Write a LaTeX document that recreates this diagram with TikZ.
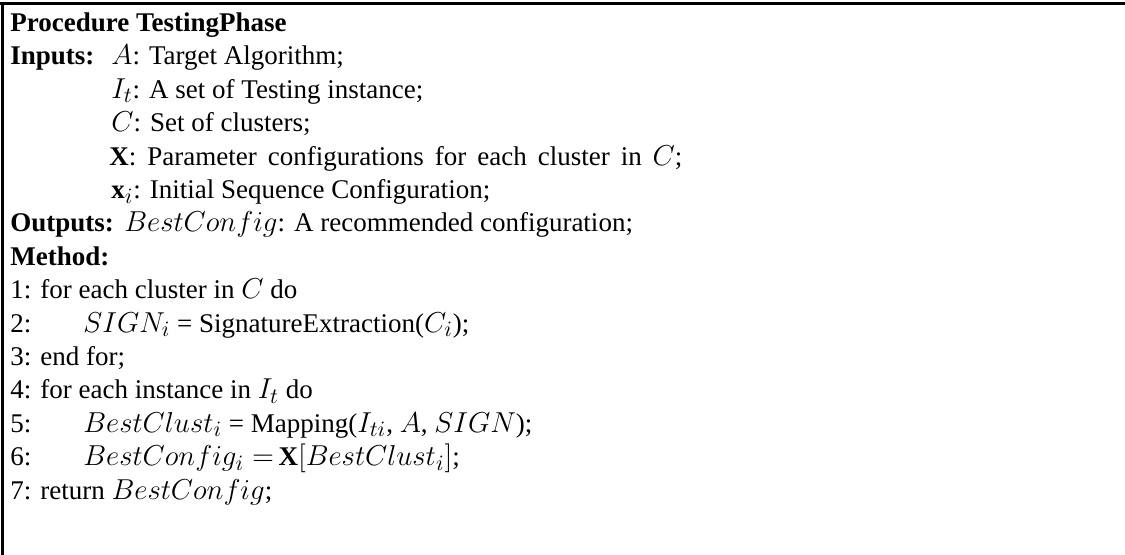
\documentclass[tikz,border=0pt]{standalone}
\usepackage{fontspec}
\setmainfont{Liberation Serif}
\DeclareMathSizes{13.5}{15}{11}{8.5}
\begin{document}
\begin{tikzpicture}[x=0.5pt,y=-0.5pt,
  txt/.style={anchor=base west, inner sep=0pt, font=\fontsize{13.5}{16}\selectfont},
  frameline/.style={line width=1.5pt}]
\useasboundingbox (0,0) rectangle (1125,555);
\coordinate (tl) at (0,3.5);
\coordinate (tr) at (1125,3.5);
\coordinate (lt) at (2,2);
\coordinate (lb) at (2,555);
\draw[frameline] (tl) -- (tr);
\draw[frameline] (lt) -- (lb);
\node[txt] (title) at (10,31.5) {\textbf{Procedure TestingPhase}};
\node[txt] (inlab) at (10,64.9) {\textbf{Inputs:}};
\node[txt] (in1) at (111,64.9) {$A$: Target Algorithm;};
\node[txt] (in2) at (111,98.3) {$I_t$: A set of Testing instance;};
\node[txt] (in3) at (111,131.7) {$C$: Set of clusters;};
\node[txt] (in4) at (109,165.1) {\spaceskip=5.5pt\textbf{X}: Parameter configurations for each cluster in $C$;};
\node[txt] (in5) at (111,198.5) {\textbf{x}$_i$: Initial Sequence Configuration;};
\node[txt] (outlab) at (10,231.9) {\textbf{Outputs:}};
\node[txt] (out1) at (124,231.9) {$BestConfig$: A recommended configuration;};
\node[txt] (meth) at (10,265.3) {\textbf{Method:}};
\node[txt] (n1) at (10,298.7) {1:};
\node[txt] (s1) at (40,298.7) {for each cluster in $C$ do};
\node[txt] (n2) at (10,332.1) {2:};
\node[txt] (s2) at (83,332.1) {$SIGN_i$ = SignatureExtraction($C_i$);};
\node[txt] (n3) at (10,365.5) {3:};
\node[txt] (s3) at (40,365.5) {end for;};
\node[txt] (n4) at (10,398.9) {4:};
\node[txt] (s4) at (40,398.9) {for each instance in $I_t$ do};
\node[txt] (n5) at (10,432.3) {5:};
\node[txt] (s5) at (83,432.3) {$BestClust_i$ = Mapping($I_{ti}$, $A$, $SIGN$);};
\node[txt] (n6) at (10,465.7) {6:};
\node[txt] (s6) at (83,465.7) {$BestConfig_i =$\,\textbf{X}$[BestClust_i]$;};
\node[txt] (n7) at (10,499.1) {7:};
\node[txt] (s7) at (40,499.1) {return $BestConfig$;};
\end{tikzpicture}
\end{document}
